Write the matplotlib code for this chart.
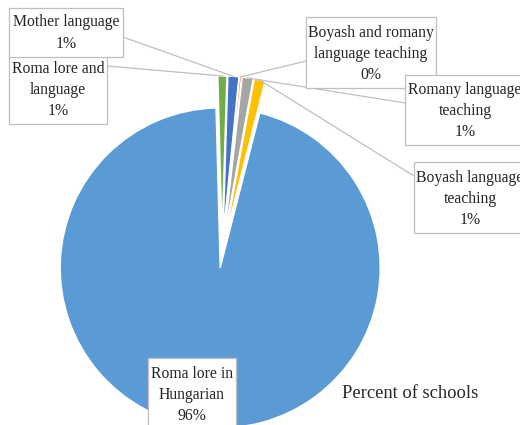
import numpy as np
import matplotlib
matplotlib.use("Agg")
import matplotlib.pyplot as plt
from matplotlib.patches import Rectangle

# slices, clockwise from just left of the top
labels = ["Roma lore and\nlanguage", "Mother language", "Boyash and romany\nlanguage teaching",
          "Romany language\nteaching", "Boyash language\nteaching", "Roma lore in\nHungarian"]
shares = [0.9, 1.1, 0.2, 1.1, 1.1, 95.6]
colors = ["#70AD47", "#4472C4", "#ED7D31", "#A5A5A5", "#FFC000", "#5B9BD5"]
title = "Percent of schools"

W, H = 520, 425
def iy(y):
    # image pixel row -> data y
    return H - y

plt.rcParams['font.family'] = ['Liberation Serif', 'DejaVu Serif']

fig = plt.figure(figsize=(5.2, 4.25), dpi=100)
ax = fig.add_axes([0, 0, 1, 1])

# explode is in data units here (1 unit = 1 px)
wedges, _ = ax.pie(shares, colors=colors, startangle=91.5, counterclock=False,
                   explode=[16] * len(shares), center=(222, iy(252)), radius=160,
                   wedgeprops=dict(edgecolor="white", linewidth=1.0))
ax.set_xlim(0, W)
ax.set_ylim(0, H)
ax.set_aspect("equal")
ax.axis("off")

# label boxes: (x0, y0, x1, y1) in image pixels, text centre, leader start
boxes = [
    ((9, 52, 107, 124), (58, 90), (107, 66)),
    ((9, 8, 123, 57), (66, 33), (123, 37)),
    ((306, 17, 436, 88), (371, 54), (306, 61)),
    ((405, 75, 530, 145), (465, 111), (405, 103)),
    ((414, 162, 530, 233), (470, 199), (414, 176)),
    ((148, 358, 236, 440), (192, 395), None),
]
draw_order = [1, 0, 2, 3, 4, 5]

edge = "#BFBFBF"
for i in draw_order:
    (x0, y0, x1, y1), (tx, ty), start = boxes[i]
    w = wedges[i]
    if start is not None:
        mid = np.deg2rad((w.theta1 + w.theta2) / 2)
        px = w.center[0] + w.r * np.cos(mid)
        py = w.center[1] + w.r * np.sin(mid)
        ax.plot([start[0], px], [iy(start[1]), py], color=edge, lw=0.9, zorder=3)
    ax.add_patch(Rectangle((x0, iy(y1)), x1 - x0, y1 - y0, facecolor="white",
                           edgecolor=edge, lw=0.9, zorder=4 + i * 0.01))
    ax.text(tx, iy(ty), "%s\n%.0f%%" % (labels[i], shares[i]), ha="center", va="center",
            fontsize=11.3, linespacing=1.45, color="#262626", zorder=5 + i * 0.01)

ax.text(410, iy(393), title, ha="center", va="center", fontsize=13.3, color="#262626")

fig.savefig("out.png", dpi=100)
